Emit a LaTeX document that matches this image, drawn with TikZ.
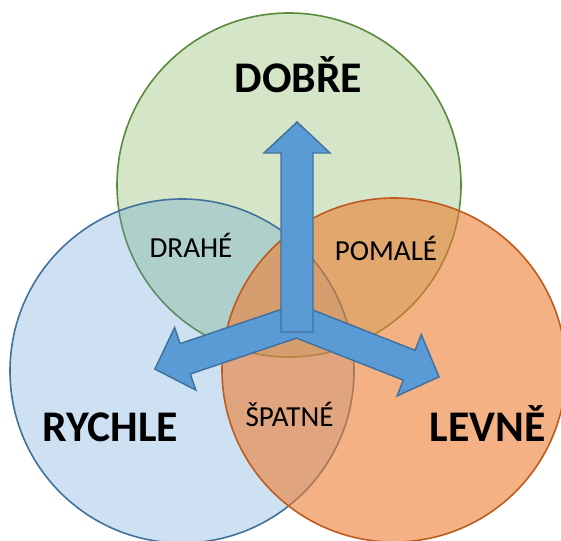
\documentclass[tikz,border=0pt]{standalone}
\usepackage{fontspec}
\setmainfont{Carlito}
\definecolor{gfill}{HTML}{70AD47}
\definecolor{gline}{HTML}{5A8A3A}
\definecolor{bfill}{HTML}{5B9BD5}
\definecolor{bline}{HTML}{41719C}
\definecolor{ofill}{HTML}{ED7D31}
\definecolor{oline}{HTML}{BE5B1F}
\definecolor{arrfill}{HTML}{5B9BD5}
\definecolor{arrline}{HTML}{41719C}
\begin{document}
\begin{tikzpicture}[x=0.75pt,y=-0.75pt,
  circ/.style={line width=1.2pt},
  arrowshape/.style={fill=arrfill, draw=arrline, line width=1.1pt, line join=miter},
  biglabel/.style={font=\fontsize{32.8}{36}\selectfont\bfseries, anchor=base, inner sep=0pt},
  smalllabel/.style={font=\fontsize{21.8}{24}\selectfont, anchor=base, inner sep=0pt}]
\useasboundingbox (0,0) rectangle (561,541);
\begin{scope}
  \clip (0,0) rectangle (561,541);
  \path[circ, fill=gfill, fill opacity=0.3, draw=gline] (289,185) circle[radius=129pt];
  \path[circ, fill=bfill, fill opacity=0.3, draw=bline] (182,371) circle[radius=129pt];
  \path[circ, fill=ofill, fill opacity=0.6, draw=oline] (394,370) circle[radius=129pt];
\end{scope}
% side arrows (one shape)
\coordinate (rb) at (302.9,306.1);
\coordinate (rj1) at (415.1,350.3);
\coordinate (rb1) at (421.3,334.5);
\coordinate (rt) at (439,376.9);
\coordinate (rb2) at (397.1,395.9);
\coordinate (rj2) at (403.3,380.1);
\coordinate (v) at (296.6,338.1);
\coordinate (lj2) at (190.3,374.0);
\coordinate (lb2) at (195.8,390.1);
\coordinate (lt) at (154.9,369.1);
\coordinate (lb1) at (174.6,327.5);
\coordinate (lj1) at (180.1,343.6);
\coordinate (lb) at (291.9,305.8);
\path[arrowshape] (rb) -- (rj1) -- (rb1) -- (rt) -- (rb2) -- (rj2) -- (v) -- (lj2) -- (lb2) -- (lt) -- (lb1) -- (lj1) -- (lb) -- cycle;
% vertical arrow
\coordinate (vs1) at (281,332);
\coordinate (vs2) at (281,153);
\coordinate (vh1) at (264,153);
\coordinate (vt) at (297,122);
\coordinate (vh2) at (330,153);
\coordinate (vs3) at (313,153);
\coordinate (vs4) at (313,332);
\path[arrowshape] (vs1) -- (vs2) -- (vh1) -- (vt) -- (vh2) -- (vs3) -- (vs4) -- cycle;
% labels
\node[biglabel] (dobre) at (298.5,93) {DOBŘE};
\node[biglabel] (rychle) at (110.5,442) {RYCHLE};
\node[biglabel] (levne) at (487.5,442) {LEVNĚ};
\node[smalllabel] (drahe) at (191,258) {DRAHÉ};
\node[smalllabel] (pomale) at (386,261) {POMALÉ};
\node[smalllabel] (spatne) at (289.5,427) {ŠPATNÉ};
\end{tikzpicture}
\end{document}
